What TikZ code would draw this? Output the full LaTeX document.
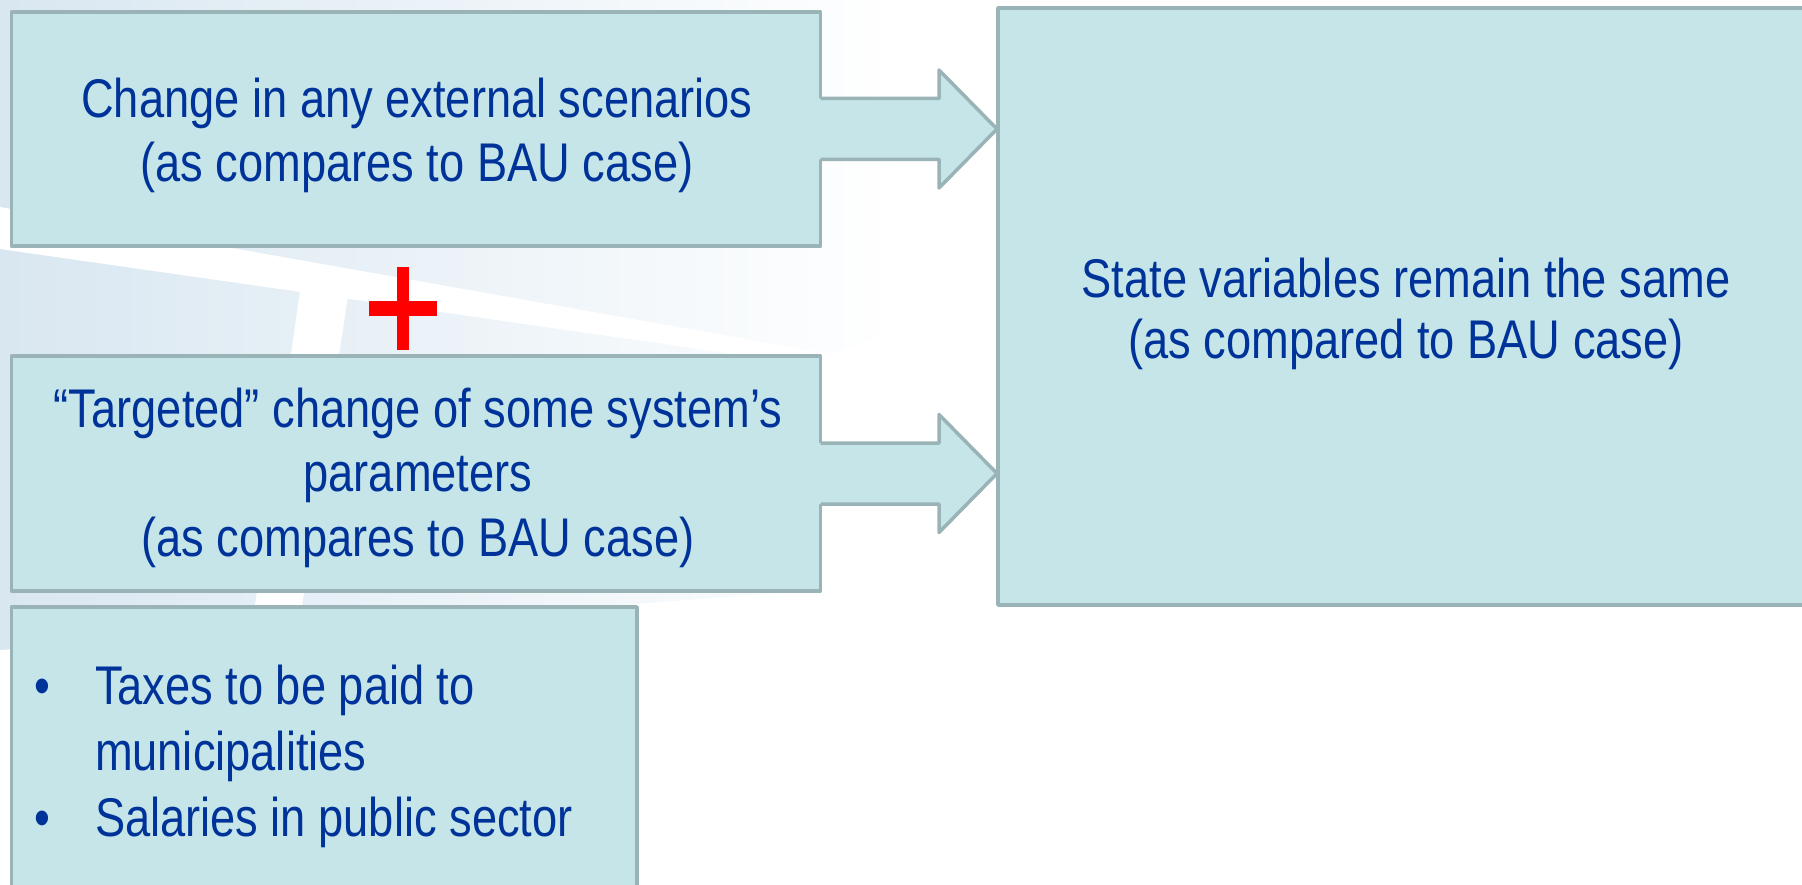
\documentclass[tikz,border=0pt]{standalone}
\usepackage{fontspec}
\usepackage{graphicx}
\setmainfont{Liberation Sans}
\usetikzlibrary{calc}
\definecolor{boxfill}{HTML}{C5E5E8}
\definecolor{boxline}{HTML}{9AB3B6}
\definecolor{txtblue}{HTML}{003399}
\definecolor{bgblue}{HTML}{D9E7F1}
\newcommand{\sq}[1]{\scalebox{0.83}[1]{#1}}
\tikzset{
  panel/.style={rectangle, draw=boxline, fill=boxfill, line width=3.5pt,
    inner sep=0pt, outer sep=0pt, line join=round},
  lbl/.style={text=txtblue, font=\fontsize{54.5}{65}\selectfont,
    inner sep=0pt, outer sep=0pt},
  arrowfill/.style={fill=boxfill},
  arrowline/.style={draw=boxline, line width=3.5pt, line join=round},
  plusbar/.style={fill=red}
}
\begin{document}
\begin{tikzpicture}[x=1pt,y=-1pt]
\useasboundingbox (0,0) rectangle (1802,885);
\clip (0,0) rectangle (1802,885);
% faint background
\shade[left color=bgblue, right color=white]
  (0,0) -- (900,0) -- (900,330) -- (815,360) -- (815,590) -- (560,610) -- (0,650) -- cycle;
\fill[white] (0,207) -- (1000,384) -- (1000,392) -- (0,249) -- cycle;
\fill[white] (300,291) -- (348,295) -- (297,640) -- (250,640) -- cycle;

% boxes
\node[panel, minimum width=809pt, minimum height=234pt] (b1) at (416,129) {};
\node[panel, minimum width=809pt, minimum height=235pt] (b2) at (416,473.5) {};
\node[panel, minimum width=625.5pt, minimum height=300pt] (b3) at (324.25,757) {};
\node[panel, minimum width=822pt, minimum height=597pt] (rb) at (1409,306.5) {};

% block arrows
\foreach \src in {b1,b2}{
  \coordinate (s) at (\src.east);
  \coordinate (t) at ($(rb.west |- \src.east)+(-1,0)$);
  \fill[arrowfill] ($(s)+(-4,-30.5)$) -- ($(t)+(-58,-30.5)$) -- ($(t)+(-58,-59)$)
    -- (t) -- ($(t)+(-58,59)$) -- ($(t)+(-58,30.5)$) -- ($(s)+(-4,30.5)$) -- cycle;
  \draw[arrowline] ($(s)+(0,-30.5)$) -- ($(t)+(-58,-30.5)$) -- ($(t)+(-58,-59)$)
    -- (t) -- ($(t)+(-58,59)$) -- ($(t)+(-58,30.5)$) -- ($(s)+(0,30.5)$);
}

% red plus
\fill[plusbar] (397,267) rectangle (409,350);
\fill[plusbar] (369,301) rectangle (437,316);

% texts
\node[lbl, anchor=base] (t1a) at (417,117.3) {\sq{Change in any external scenarios}};
\node[lbl, anchor=base] (t1b) at (417,181.7) {\sq{(as compares to BAU case)}};
\node[lbl, anchor=base] (t2a) at (418,427) {\sq{“Targeted” change of some system’s}};
\node[lbl, anchor=base] (t2b) at (418,491.5) {\sq{parameters}};
\node[lbl, anchor=base] (t2c) at (418,556) {\sq{(as compares to BAU case)}};
\node[lbl, anchor=base] (t3a) at (1406,297.5) {\sq{State variables remain the same}};
\node[lbl, anchor=base] (t3b) at (1406,358.5) {\sq{(as compared to BAU case)}};
\node[lbl, anchor=base] (u1) at (42,704) {\sq{•}};
\node[lbl, anchor=base west] (l1) at (95,704) {\sq{Taxes to be paid to}};
\node[lbl, anchor=base west] (l2) at (95,770) {\sq{municipalities}};
\node[lbl, anchor=base] (u2) at (42,836) {\sq{•}};
\node[lbl, anchor=base west] (l3) at (95,836) {\sq{Salaries in public sector}};
\end{tikzpicture}
\end{document}
